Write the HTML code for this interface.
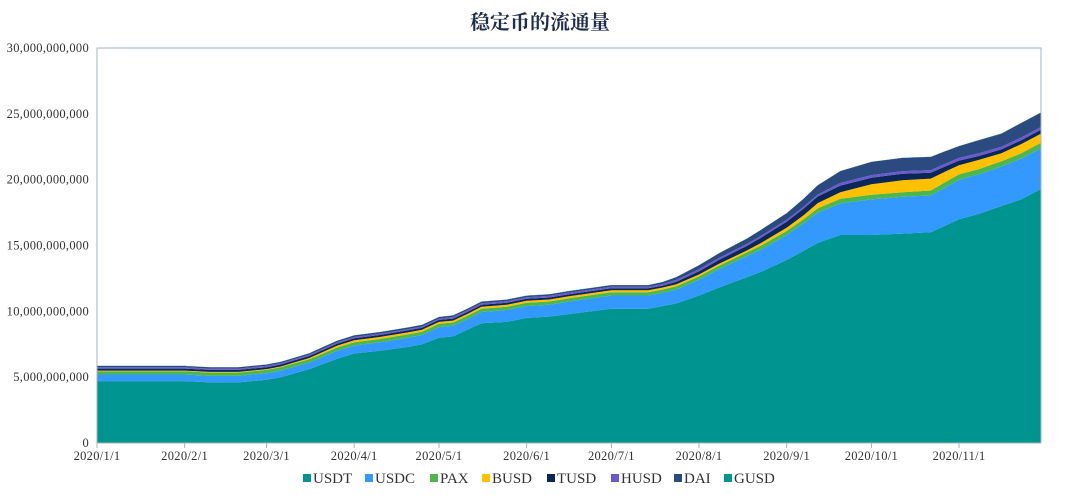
<!DOCTYPE html>
<html><head><meta charset="utf-8"><style>
body{margin:0;background:#fff;}
svg text{font-family:"Liberation Serif","Noto Serif CJK SC",serif;}
</style></head><body>
<svg id="c" width="1080" height="496" xmlns="http://www.w3.org/2000/svg">
<text x="540" y="29" text-anchor="middle" font-size="20" font-weight="bold" fill="#1f2d4d" style="font-family:'Noto Serif CJK SC',serif">稳定币的流通量</text>
<g id="plot"></g>
<g id="axes"></g>
<g id="legend"></g>
</svg>
<script>
const days = [0,10,20,31,40,50,60,65,70,75,80,85,91,100,110,115,121,126,131,136,145,152,160,167,182,195,200,205,213,220,230,235,244,250,255,263,274,285,295,300,305,312,320,327,334];
const USDT = [4.7,4.7,4.7,4.7,4.6,4.6,4.8,5.0,5.3,5.6,6.0,6.4,6.8,7.0,7.3,7.5,8.0,8.1,8.6,9.1,9.2,9.5,9.6,9.8,10.2,10.2,10.4,10.6,11.2,11.8,12.6,13.0,13.9,14.6,15.2,15.8,15.8,15.9,16.0,16.5,17.0,17.4,18.0,18.5,19.3];
const USDC = [0.5,0.5,0.5,0.5,0.5,0.5,0.5,0.5,0.5,0.5,0.55,0.6,0.6,0.65,0.7,0.7,0.8,0.8,0.8,0.85,0.9,0.9,0.9,0.95,1.0,1.0,1.0,1.05,1.2,1.4,1.6,1.7,1.9,2.1,2.3,2.4,2.7,2.8,2.8,2.9,3.0,3.0,3.0,3.1,3.1];
const PAX = [0.25,0.25,0.25,0.25,0.25,0.25,0.25,0.25,0.25,0.25,0.25,0.25,0.25,0.25,0.25,0.25,0.25,0.25,0.25,0.25,0.25,0.25,0.25,0.25,0.25,0.25,0.25,0.25,0.25,0.25,0.28,0.3,0.3,0.3,0.32,0.35,0.35,0.35,0.38,0.4,0.4,0.4,0.4,0.4,0.4];
const BUSD = [0.05,0.05,0.05,0.05,0.05,0.05,0.06,0.06,0.08,0.1,0.12,0.15,0.15,0.15,0.15,0.15,0.15,0.15,0.15,0.15,0.15,0.15,0.15,0.15,0.15,0.15,0.15,0.15,0.15,0.15,0.15,0.2,0.25,0.3,0.4,0.5,0.8,0.9,0.9,0.8,0.7,0.7,0.6,0.7,0.7];
const TUSD = [0.15,0.15,0.15,0.15,0.15,0.15,0.15,0.15,0.15,0.15,0.15,0.15,0.15,0.15,0.15,0.15,0.15,0.15,0.15,0.15,0.15,0.15,0.15,0.15,0.15,0.15,0.15,0.2,0.25,0.3,0.35,0.4,0.45,0.5,0.5,0.5,0.5,0.5,0.45,0.4,0.35,0.3,0.3,0.3,0.3];
const HUSD = [0.1,0.1,0.1,0.1,0.1,0.1,0.1,0.1,0.1,0.1,0.1,0.1,0.1,0.1,0.1,0.1,0.1,0.12,0.12,0.12,0.12,0.12,0.12,0.12,0.12,0.12,0.12,0.15,0.15,0.15,0.15,0.15,0.15,0.15,0.15,0.2,0.2,0.2,0.2,0.2,0.2,0.2,0.2,0.2,0.2];
const DAI = [0.1,0.1,0.1,0.1,0.1,0.1,0.1,0.1,0.1,0.1,0.12,0.12,0.12,0.12,0.12,0.12,0.12,0.12,0.12,0.12,0.12,0.12,0.12,0.12,0.12,0.12,0.15,0.2,0.3,0.35,0.4,0.45,0.5,0.6,0.7,0.9,1.0,1.0,1.0,0.95,0.9,1.0,1.0,1.1,1.1];
const GUSD = [0.01,0.01,0.01,0.01,0.01,0.01,0.01,0.01,0.01,0.01,0.01,0.01,0.01,0.01,0.01,0.01,0.01,0.01,0.01,0.01,0.01,0.01,0.01,0.01,0.01,0.01,0.01,0.01,0.01,0.01,0.01,0.01,0.01,0.01,0.01,0.01,0.01,0.01,0.01,0.01,0.01,0.01,0.01,0.01,0.01];
const seriesNames = ["USDT","USDC","PAX","BUSD","TUSD","HUSD","DAI","GUSD"];
const yTicks = [0,5,10,15,20,25,30];
const xTickDays = [0,31,60,91,121,152,182,213,244,274,305];
const xTickLabels = ["2020/1/1","2020/2/1","2020/3/1","2020/4/1","2020/5/1","2020/6/1","2020/7/1","2020/8/1","2020/9/1","2020/10/1","2020/11/1"];

const colors = ["#009490","#3399ff","#4cb84c","#ffc000","#0a2757","#6a5acd","#2b4a80","#009490"];
const X0=97,X1=1041,Y0=443,Y1=48,DMAX=334,VMAX=30;
const xs = d => X0 + d/DMAX*(X1-X0);
const ys = v => Y0 - v/VMAX*(Y0-Y1);
const NS="http://www.w3.org/2000/svg";
function mk(tag, attrs, parent){const e=document.createElementNS(NS,tag);for(const k in attrs)e.setAttribute(k,attrs[k]);parent.appendChild(e);return e;}
const plot=document.getElementById('plot'), axes=document.getElementById('axes'), legend=document.getElementById('legend');
const all=[USDT,USDC,PAX,BUSD,TUSD,HUSD,DAI,GUSD];
let base=days.map(()=>0);
all.forEach((s,i)=>{
  const top=base.map((b,j)=>b+s[j]);
  let d="M"+days.map((dd,j)=>xs(dd).toFixed(1)+","+ys(top[j]).toFixed(1)).join(" L");
  for(let j=days.length-1;j>=0;j--) d+=" L"+xs(days[j]).toFixed(1)+","+ys(base[j]).toFixed(1);
  d+=" Z";
  const p=mk('path',{d:d,fill:colors[i]},plot);
  
  
  base=top;
});
const fr=mk('rect',{x:X0,y:Y1,width:X1-X0,height:Y0-Y1,fill:"none",stroke:"#a6b4c0","stroke-width":1},axes);


yTicks.forEach(v=>{
  const t=mk('text',{x:89,y:ys(v)+4,"text-anchor":"end","font-size":12.5,fill:"#333","letter-spacing":"0.3"},axes);
  t.textContent=(v*1e9).toLocaleString('en-US');
  
  
});
xTickDays.forEach((d,i)=>{
  const l=mk('line',{x1:xs(d),x2:xs(d),y1:Y0,y2:Y0+5,stroke:"#a6b4c0"},axes);
  
  
  const t=mk('text',{x:xs(d),y:Y0+17,"text-anchor":"middle","font-size":12.5,fill:"#333","letter-spacing":"0.3"},axes);
  t.textContent=xTickLabels[i];
  
  
});
const lw=[62,65,52,65,64,63,50,60];
let lx=303;
seriesNames.forEach((n,i)=>{
  const g=mk('g',{},legend);
  
  
  mk('rect',{x:lx,y:474,width:8,height:8,fill:colors[i]},g);
  const t=mk('text',{x:lx+10,y:483,"font-size":15,fill:"#333"},g);
  t.textContent=n;
  lx+=lw[i];
});
</script>
</body></html>
